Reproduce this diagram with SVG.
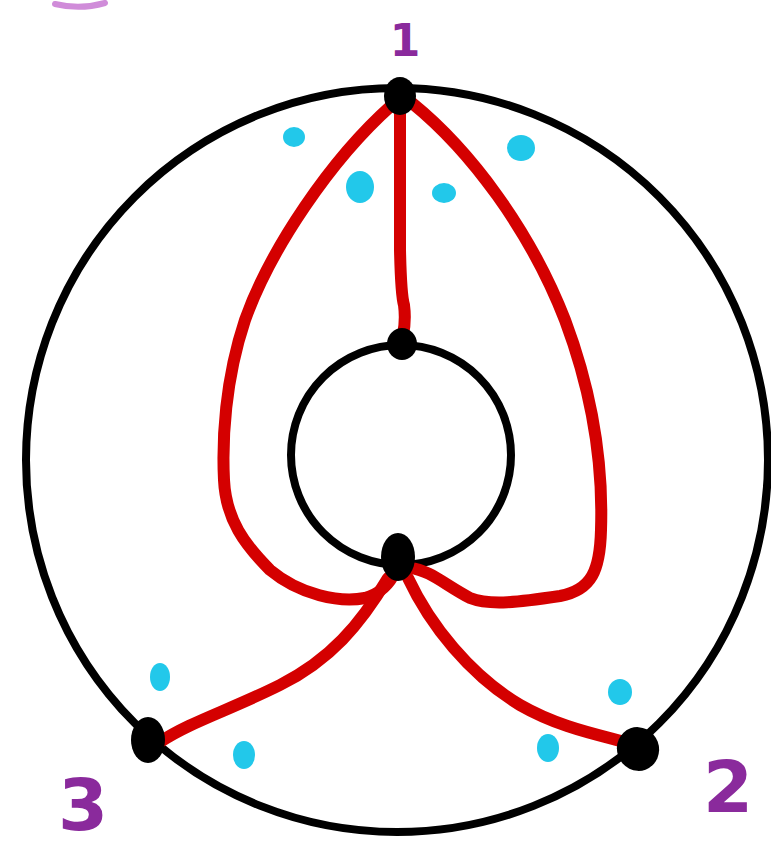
<svg xmlns="http://www.w3.org/2000/svg" width="771" height="850" viewBox="0 0 771 850">
<style>
.ring{fill:none;stroke:#000;stroke-width:8}
.edge{fill:none;stroke:#d40000;stroke-width:12;stroke-linecap:round;stroke-linejoin:round}
.node{fill:#000}
.dot{fill:#22c8ea}
.lbl{fill:#8a2a9c;font-family:"DejaVu Sans","Liberation Sans",sans-serif;font-weight:bold}
</style>
<rect width="771" height="850" fill="#fff"/>
<path d="M55 4 Q80 10 105 3" fill="none" stroke="#b040c0" stroke-width="6" stroke-linecap="round" opacity="0.6"/>
<g id="outer-circle"><ellipse class="ring" cx="397" cy="460" rx="371" ry="372"/></g>
<g id="inner-circle"><circle class="ring" cx="401" cy="455" r="110"/></g>
<g id="connectors">
<path class="edge" d="M400 105 L400 250 Q401 295 404 305 Q406 320 403 335"/>
<path class="edge" d="M392 105 C330 160 270 250 245 320 C225 380 222 440 224 480 C226 520 245 545 270 570 C300 595 340 603 365 598 C380 594 390 583 395 572"/>
<path class="edge" d="M412 103 C470 150 530 230 565 320 C595 400 603 470 601 530 C600 570 592 590 560 596 C520 602 490 606 470 598 C445 585 430 570 410 568"/>
<path class="edge" d="M388 578 C360 625 330 660 280 685 C230 710 190 722 160 742"/>
<path class="edge" d="M408 578 C430 625 470 675 520 705 C560 728 600 735 632 744"/>
</g>
<g id="node-top"><ellipse class="node" cx="400" cy="96" rx="16" ry="19"/></g>
<g id="node-inner-top"><ellipse class="node" cx="402" cy="344" rx="15" ry="16"/></g>
<g id="node-inner-bottom"><ellipse class="node" cx="398" cy="557" rx="17" ry="24"/></g>
<g id="node-left"><ellipse class="node" cx="148" cy="740" rx="17" ry="23"/></g>
<g id="node-right"><ellipse class="node" cx="638" cy="749" rx="21" ry="22" transform="rotate(-20 638 749)"/></g>
<g id="dots">
<ellipse class="dot" cx="294" cy="137" rx="11" ry="10"/>
<ellipse class="dot" cx="360" cy="187" rx="14" ry="16"/>
<ellipse class="dot" cx="444" cy="193" rx="12" ry="10"/>
<ellipse class="dot" cx="521" cy="148" rx="14" ry="13"/>
<ellipse class="dot" cx="160" cy="677" rx="10" ry="14"/>
<ellipse class="dot" cx="244" cy="755" rx="11" ry="14"/>
<ellipse class="dot" cx="620" cy="692" rx="12" ry="13"/>
<ellipse class="dot" cx="548" cy="748" rx="11" ry="14"/>
</g>
<g id="label-1"><text class="lbl" x="405" y="56" font-size="44" text-anchor="middle">1</text></g>
<g id="label-2"><text class="lbl" x="728" y="812" font-size="72" text-anchor="middle">2</text></g>
<g id="label-3"><text class="lbl" x="83" y="830" font-size="72" text-anchor="middle">3</text></g>
</svg>
